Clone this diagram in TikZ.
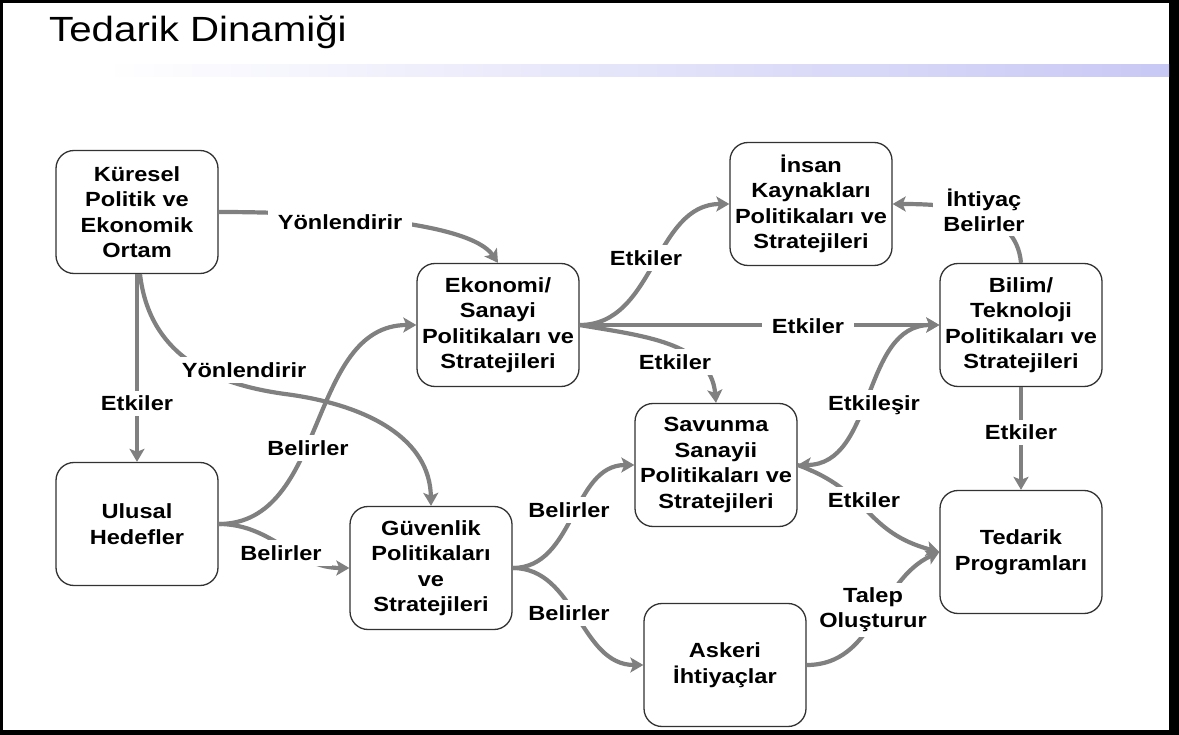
\documentclass[tikz,border=0pt]{standalone}
\usepackage{fontspec}
\setmainfont{Liberation Sans}[FakeStretch=1.15]
\usetikzlibrary{arrows.meta}
\definecolor{lgray}{RGB}{128,128,128}
\definecolor{bord}{RGB}{50,50,50}
\definecolor{lav}{RGB}{200,200,245}
\begin{document}
\begin{tikzpicture}[x=1pt,y=1pt,
  box/.style={draw=bord,line width=1.3pt,rounded corners=18pt,fill=white,
    minimum width=162pt,minimum height=123pt,align=center,inner sep=0pt,
    font=\bfseries\fontsize{20.5}{25.5}\selectfont},
  conn/.style={draw=lgray,line width=4.2pt,-{Stealth[length=13pt,width=15pt,inset=3pt]}},
  bconn/.style={draw=lgray,line width=4.2pt,{Stealth[length=13pt,width=15pt,inset=3pt]}-{Stealth[length=13pt,width=15pt,inset=3pt]}},
  lbl/.style={fill=white,inner xsep=10pt,inner ysep=5pt,align=center,
    font=\bfseries\fontsize{20.5}{25}\selectfont}]
\fill[white] (0,0) rectangle (1179,-735);
\useasboundingbox (0,0) rectangle (1179,-735);
% frame
\fill[black] (0,0) rectangle (3,-735);
\fill[black] (0,0) rectangle (1179,-3);
\fill[black] (1169,0) rectangle (1179,-735);
\fill[black] (0,-730) rectangle (1179,-735);
% title bar
\shade[left color=white,right color=lav] (105,-65) rectangle (1169,-77);
\node[anchor=base west,inner sep=0pt,font=\fontsize{35}{40}\selectfont] (title) at (49,-42) {Tedarik Dinamiği};

% boxes
\node[box] (kur) at (137,-212) {Küresel\\Politik ve\\Ekonomik\\Ortam};
\node[box] (ulu) at (137,-524) {Ulusal\\Hedefler};
\node[box] (eko) at (498,-325) {Ekonomi/\\Sanayi\\Politikaları ve\\Stratejileri};
\node[box] (ins) at (811,-204) {İnsan\\Kaynakları\\Politikaları ve\\Stratejileri};
\node[box] (bil) at (1021,-325) {Bilim/\\Teknoloji\\Politikaları ve\\Stratejileri};
\node[box] (sav) at (716,-465) {Savunma\\Sanayii\\Politikaları ve\\Stratejileri};
\node[box] (gue) at (431,-568) {Güvenlik\\Politikaları\\ve\\Stratejileri};
\node[box] (ask) at (725,-665) {Askeri\\İhtiyaçlar};
\node[box] (ted) at (1021,-552) {Tedarik\\Programları};

% connectors
\draw[conn] (kur.east) .. controls (330,-212) and (470,-222) .. (eko.north);
\node[lbl] (l1) at (340,-222) {Yönlendirir};

\draw[conn] (kur.south) -- node[lbl,pos=0.69] (l2) {Etkiler} (ulu.north);

\draw[conn] ([xshift=3pt]kur.south) .. controls (150,-360) and (220,-385) .. (285,-394)
  .. controls (370,-405) and (430,-440) .. (gue.north);
\node[lbl] (l3) at (244,-370) {Yönlendirir};

\draw[conn] (ulu.east) to[out=0,in=180] (eko.west);
\node[lbl] (l4) at (308,-448) {Belirler};
\draw[conn] (ulu.east) to[out=0,in=180] (gue.west);
\node[lbl] (l5) at (281,-553) {Belirler};

\draw[conn] (eko.east) to[out=0,in=180] (ins.west);
\node[lbl] (l6) at (646,-258) {Etkiler};
\draw[conn] (eko.east) -- (bil.west);
\node[lbl] (l7) at (808,-326) {Etkiler};
\draw[conn] (eko.east) to[out=-10,in=95] (sav.north);
\node[lbl] (l8) at (675,-362) {Etkiler};

\draw[conn] (bil.north) to[out=95,in=0] (ins.east);
\node[lbl] (l9) at (984,-210) {İhtiyaç\\Belirler};

\draw[conn] (bil.south) -- node[lbl,pos=0.44] (l10) {Etkiler} (ted.north);

\draw[bconn] (sav.east) to[out=0,in=180] (bil.west);
\node[lbl] (l11) at (874,-405) {Etkileşir};

\draw[conn] (sav.east) to[out=-20,in=165,looseness=1.2] (ted.west);
\node[lbl] (l12) at (864,-500) {Etkiler};

\draw[conn] (ask.east) to[out=0,in=205] (ted.west);
\node[lbl] (l13) at (873,-610) {Talep\\Oluşturur};

\draw[conn] (gue.east) to[out=0,in=180] (sav.west);
\node[lbl] (l14) at (569,-510) {Belirler};
\draw[conn] (gue.east) to[out=0,in=180] (ask.west);
\node[lbl] (l15) at (569,-613) {Belirler};
\end{tikzpicture}
\end{document}
